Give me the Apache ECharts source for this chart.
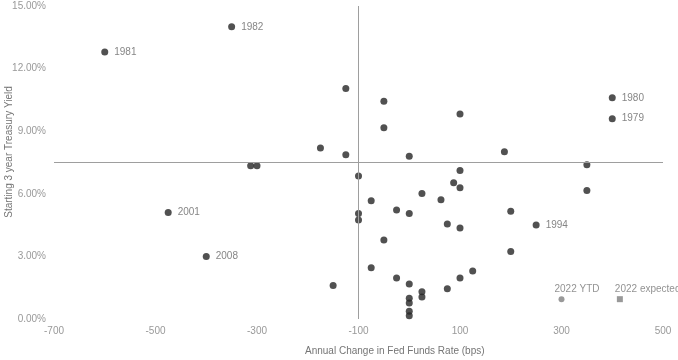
<!DOCTYPE html>
<html>
<head>
<meta charset="utf-8">
<script src="https://cdn.jsdelivr.net/npm/echarts@6/dist/echarts.min.js"></script>
<style>html,body{margin:0;padding:0;background:#fff}#c{width:678px;height:360px}</style>
</head>
<body>
<div id="c"></div>
<script>
// Labeled years
const labeledYears = ['1979', '1980', '1981', '1982', '1994', '2001', '2008'];
const labeledChange = [400, 400, -600, -350, 250, -475, -400];
const labeledYield = [9.6, 10.6, 12.8, 14.0, 4.5, 5.1, 3.0];

// Other (unlabeled) years
const otherChange = [-312.5, -300, -175, -150, -125, -125, -100, -100, -100, -75, -75, -50, -50, -50, -25, -25,
  0, 0, 0, 0, 0, 0, 0, 25, 25, 25, 62.5, 75, 75, 87.5, 100, 100, 100, 100, 100, 125, 187.5, 200, 200, 350, 350];
const otherYield = [7.35, 7.35, 8.2, 1.6, 11.05, 7.87, 6.85, 5.06, 4.74, 5.67, 2.46, 10.43, 9.17, 3.79, 5.22, 1.96,
  7.8, 5.05, 1.68, 0.99, 0.77, 0.37, 0.16, 6.02, 1.3, 1.06, 5.72, 4.55, 1.45, 6.53, 9.82, 7.12, 6.29, 4.36, 1.97, 2.3, 8.02, 5.16, 3.23, 7.39, 6.16];

// 2022
const ytdLabel = '2022 YTD';
const ytdPoint = [300, 0.95];
const expLabel = '2022 expected';
const expPoint = [415, 0.95];

// Reference lines
const refYield = 7.5;
const refChange = -100;

// Axis
const xMin = -700, xMax = 500, xStep = 200;
const yMin = 0, yMax = 15, yStep = 3;
const xTitle = 'Annual Change in Fed Funds Rate (bps)';
const yTitle = 'Starting 3 year Treasury Yield';

const chart = echarts.init(document.getElementById('c'), null, {renderer: 'canvas'});
const font = 'Arial, "Liberation Sans", sans-serif';
const labelStyle = {show: true, position: 'right', distance: 6, color: '#666', fontSize: 10, fontFamily: font};

chart.setOption({
  animation: false,
  grid: {left: 54, right: 15, top: 6, bottom: 41, containLabel: false, outerBoundsMode: 'none'},
  graphic: [
    {type: 'text', left: 305, top: 346, silent: true,
      style: {text: xTitle, fill: '#757575', font: '10px ' + font}},
    {type: 'text', x: 4, y: 152, rotation: Math.PI / 2, silent: true,
      style: {text: yTitle, fill: '#757575', font: '10px ' + font, align: 'center', verticalAlign: 'top'}}
  ],
  xAxis: {
    type: 'value', min: xMin, max: xMax, interval: xStep,
    axisLine: {show: false}, axisTick: {show: false}, splitLine: {show: false},
    axisLabel: {color: '#999', fontSize: 10, fontFamily: font, margin: 7}
  },
  yAxis: {
    type: 'value', min: yMin, max: yMax, interval: yStep,
    axisLine: {show: false}, axisTick: {show: false}, splitLine: {show: false},
    axisLabel: {color: '#999', fontSize: 10, fontFamily: font, margin: 8,
      formatter: v => v.toFixed(2) + '%'}
  },
  series: [
    {
      type: 'scatter', symbolSize: 7, itemStyle: {color: '#262626'},
      data: otherChange.map((x, i) => [x, otherYield[i]]),
      markLine: {
        silent: true, symbol: 'none', label: {show: false},
        lineStyle: {color: '#9e9e9e', width: 1, type: 'solid'},
        data: [{yAxis: refYield}, {xAxis: refChange}]
      }
    },
    {
      type: 'scatter', symbolSize: 7, itemStyle: {color: '#262626'},
      data: labeledYears.map((n, i) => ({name: n, value: [labeledChange[i], labeledYield[i]]})),
      label: Object.assign({}, labelStyle, {formatter: p => p.name})
    },
    {
      type: 'scatter', symbol: 'circle', symbolSize: 6, itemStyle: {color: '#808080'},
      data: [{name: ytdLabel, value: ytdPoint}],
      label: {show: true, position: 'top', align: 'left', distance: 2, offset: [-7, 0],
        color: '#777', fontSize: 10, fontFamily: font, formatter: p => p.name}
    },
    {
      type: 'scatter', symbol: 'rect', symbolSize: 6, itemStyle: {color: '#808080'},
      data: [{name: expLabel, value: expPoint}],
      label: {show: true, position: 'top', align: 'left', distance: 2, offset: [-5, 0],
        color: '#777', fontSize: 10, fontFamily: font, formatter: p => p.name}
    }
  ]
});
</script>
</body>
</html>
